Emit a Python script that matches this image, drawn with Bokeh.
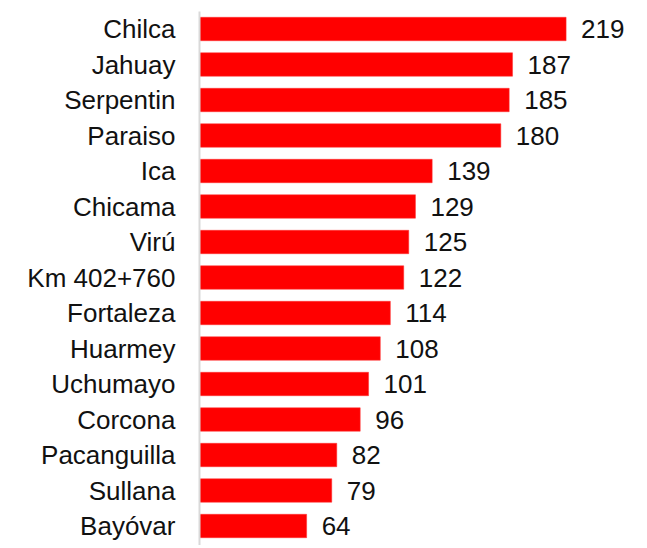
from bokeh.plotting import figure
from bokeh.models import ColumnDataSource, Range1d, FixedTicker
from bokeh.core.properties import value
from bokeh.embed import file_html
from bokeh.resources import INLINE

categories = ["Chilca", "Jahuay", "Serpentin", "Paraiso", "Ica", "Chicama", "Virú",
              "Km 402+760", "Fortaleza", "Huarmey", "Uchumayo", "Corcona",
              "Pacanguilla", "Sullana", "Bayóvar"]
values = [219, 187, 185, 180, 139, 129, 125, 122, 114, 108, 101, 96, 82, 79, 64]

pos = list(range(len(categories)))
src = ColumnDataSource(dict(y=pos, v=values, lbl=[str(v) for v in values]))

W, H = 640, 545
left, top = 199, 11
px_per_unit = 1.674
px_per_cat = 35.5
x_end = (W - left) / px_per_unit
y_top = -(28.5 - top) / px_per_cat
y_bot = (H - 28.5) / px_per_cat

p = figure(width=W, height=H, output_backend="svg", toolbar_location=None,
           x_range=Range1d(0, x_end), y_range=Range1d(y_bot, y_top),
           min_border_left=left, min_border_right=0, min_border_top=top, min_border_bottom=0)

p.hbar(y="y", left=0, right="v", height=0.66, source=src,
       fill_color="#ff0000", line_color="#ff3030", line_width=0.5)
p.text(x="v", y="y", text="lbl", source=src, x_offset=15,
       text_baseline="middle", text_align="left",
       text_font=value("Liberation Sans"), text_font_size="26px", text_color="#111111")

p.xaxis.visible = False
p.grid.visible = False
p.outline_line_color = None

ax = p.yaxis[0]
ax.ticker = FixedTicker(ticks=pos)
ax.major_label_overrides = {i: c for i, c in enumerate(categories)}
ax.major_tick_out = 0
ax.major_tick_in = 0
ax.minor_tick_out = 0
ax.minor_tick_in = 0
ax.axis_line_color = "#d9d9d9"
ax.axis_line_width = 2
ax.major_label_standoff = 24
ax.major_label_text_font = "Liberation Sans"
ax.major_label_text_font_size = "26px"
ax.major_label_text_color = "#111111"

open("out.html", "w").write(file_html(p, INLINE))
